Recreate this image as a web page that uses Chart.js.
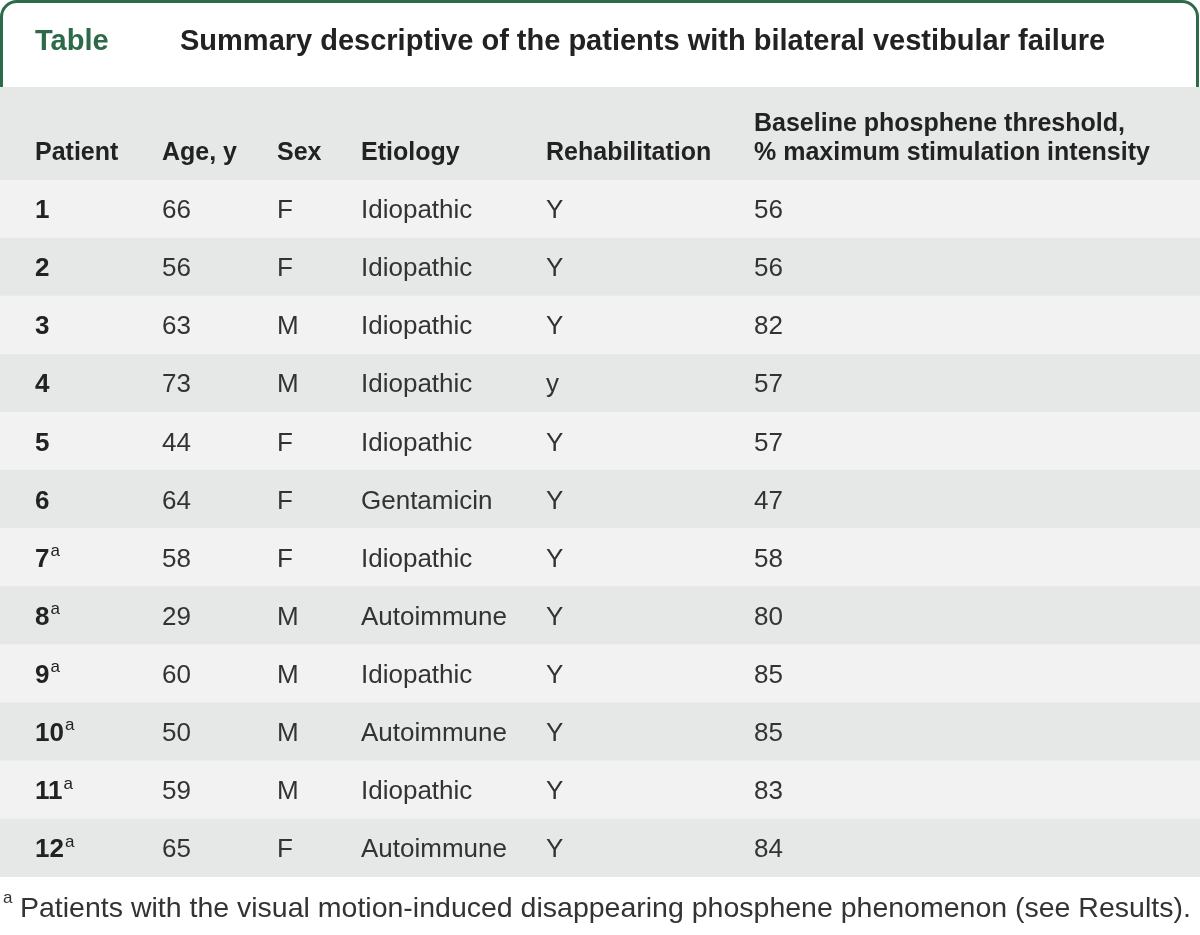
<!DOCTYPE html>
<html>
<head>
<meta charset="utf-8">
<script src="https://cdn.jsdelivr.net/npm/chart.js@4"></script>
<style>
  html, body { margin: 0; padding: 0; background: #fff; }
  #table { display: block; }
</style>
</head>
<body>
<canvas id="table" width="1200" height="935"></canvas>
<script>
// table contents
const headers = ['Patient', 'Age, y', 'Sex', 'Etiology', 'Rehabilitation',
  ['Baseline phosphene threshold,', '% maximum stimulation intensity']];
const patients = ['1', '2', '3', '4', '5', '6', '7', '8', '9', '10', '11', '12'];
const phenomenon = [false, false, false, false, false, false, true, true, true, true, true, true];
const ages = [66, 56, 63, 73, 44, 64, 58, 29, 60, 50, 59, 65];
const sexes = ['F', 'F', 'M', 'M', 'F', 'F', 'F', 'M', 'M', 'M', 'M', 'F'];
const etiologies = ['Idiopathic', 'Idiopathic', 'Idiopathic', 'Idiopathic', 'Idiopathic', 'Gentamicin',
  'Idiopathic', 'Autoimmune', 'Idiopathic', 'Autoimmune', 'Idiopathic', 'Autoimmune'];
const rehabilitation = ['Y', 'Y', 'Y', 'y', 'Y', 'Y', 'Y', 'Y', 'Y', 'Y', 'Y', 'Y'];
const thresholds = [56, 56, 82, 57, 57, 47, 58, 80, 85, 85, 83, 84];

const tabLabel = 'Table';
const title = 'Summary descriptive of the patients with bilateral vestibular failure';
const footnote = 'Patients with the visual motion-induced disappearing phosphene phenomenon (see Results).';

// layout (x in scale units = px across the page)
const colX = [35, 162, 277, 361, 546, 754];
const green = '#2d6a48';
const FONT = '"Liberation Sans", Arial, sans-serif';

const columns = [
  patients, ages, sexes, etiologies, rehabilitation, thresholds
];

const tablePlugin = {
  id: 'tableText',
  beforeDatasetsDraw(chart) {
    const c = chart.ctx;
    const area = chart.chartArea;
    c.save();
    // header band
    c.fillStyle = '#e6e7e7';
    c.fillRect(0, 87, chart.width, area.top - 87);

    // green frame
    c.strokeStyle = green;
    c.lineWidth = 3;
    c.beginPath();
    c.moveTo(1.5, 87);
    c.lineTo(1.5, 17);
    c.arcTo(1.5, 1.5, 17, 1.5, 15.5);
    c.lineTo(1182, 1.5);
    c.arcTo(1197.5, 1.5, 1197.5, 17, 15.5);
    c.lineTo(1197.5, 87);
    c.stroke();

    // tab label + title
    c.textBaseline = 'alphabetic';
    c.font = 'bold 29px ' + FONT;
    c.fillStyle = green;
    c.fillText(tabLabel, 35, 50);
    c.fillStyle = '#222';
    c.fillText(title, 180, 50);

    // column headers
    c.font = 'bold 25px ' + FONT;
    c.fillStyle = '#222';
    const x = chart.scales.x;
    headers.forEach((h, i) => {
      const lines = Array.isArray(h) ? h : [h];
      lines.forEach((ln, j) => {
        c.fillText(ln, x.getPixelForValue(colX[i]), 160 - (lines.length - 1 - j) * 29);
      });
    });

    // footnote
    c.font = '17px ' + FONT;
    c.fillStyle = '#333';
    c.fillText('a', 3, 903);
    c.font = '28.5px ' + FONT;
    c.fillText(footnote, 20, 917);
    c.restore();
  },
  afterDatasetsDraw(chart) {
    const c = chart.ctx;
    const x = chart.scales.x;
    const y = chart.scales.y;
    c.save();
    c.textBaseline = 'middle';
    c.fillStyle = '#333';
    patients.forEach((p, r) => {
      const yy = y.getPixelForValue(r);
      columns.forEach((col, k) => {
        const xx = x.getPixelForValue(colX[k]);
        c.font = (k === 0 ? 'bold ' : '') + '26px ' + FONT;
        c.fillStyle = k === 0 ? '#222' : '#333';
        c.fillText(String(col[r]), xx, yy + 2);
        if (k === 0 && phenomenon[r]) {
          const w = c.measureText(String(col[r])).width;
          c.font = '17px ' + FONT;
          c.fillText('a', xx + w + 1, yy - 6);
        }
      });
    });
    c.restore();
  }
};

new Chart(document.getElementById('table'), {
  type: 'bar',
  data: {
    labels: patients,
    datasets: [{
      data: patients.map(() => [0, 1200]),
      backgroundColor: ctx => ctx.dataIndex % 2 ? '#e6e7e7' : '#f2f2f2',
      borderWidth: 0,
      barPercentage: 1,
      categoryPercentage: 1
    }]
  },
  options: {
    indexAxis: 'y',
    responsive: false,
    animation: false,
    devicePixelRatio: 1,
    layout: { padding: { top: 180, bottom: 58, left: 0, right: 0 } },
    scales: {
      x: { type: 'linear', min: 0, max: 1200, display: false },
      y: { display: false }
    },
    plugins: {
      legend: { display: false },
      tooltip: { enabled: false },
      title: { display: false }
    }
  },
  plugins: [tablePlugin]
});
</script>
</body>
</html>
